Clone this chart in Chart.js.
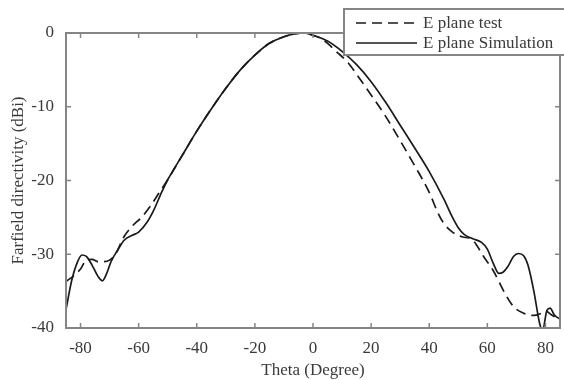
<!DOCTYPE html>
<html>
<head>
<meta charset="utf-8">
<script src="https://cdn.jsdelivr.net/npm/chart.js@4"></script>
<style>
  body { margin: 0; background: #fff; }
  canvas { display: block; }
</style>
</head>
<body>
<canvas id="myChart" width="564" height="380"></canvas>
<script>
const xTicks = [-80, -60, -40, -20, 0, 20, 40, 60, 80];
const yTicks = [0, -10, -20, -30, -40];

const simTheta = [-85, -83, -81, -79.5, -78, -76, -74, -72.5, -71, -69.5, -67, -65, -62, -60, -57, -55, -52,
    -50, -45, -40, -35, -30, -25, -20, -15, -10, -6, -3, 0, 5, 10, 15, 20, 25, 30, 35, 40, 45, 48, 50, 52,
    55, 58, 60, 62, 64, 65.5, 67, 69, 70.7, 72.5, 74, 76, 78, 79, 80.5, 81.6, 83, 85];
const simDb = [-37.5, -33.5, -31.0, -30.1, -30.3, -31.5, -33.0, -33.6, -32.6, -31.0, -29.3, -28.1, -27.4, -27.0, -25.6, -24.2, -21.5,
    -19.9, -16.6, -13.3, -10.3, -7.5, -5.0, -3.0, -1.4, -0.5, -0.1, 0, -0.3, -1.1, -2.5, -4.3, -6.6, -9.4, -12.5, -15.6, -18.8, -22.5, -25.0, -26.4, -27.3,
    -27.9, -28.4, -29.3, -31.2, -32.6, -32.4, -31.7, -30.3, -29.9, -30.2, -31.5, -35.0, -39.4, -40.3, -37.6, -37.3, -38.2, -38.8];

const testTheta = [-85, -82, -80, -78, -76, -74, -72, -70, -68, -65, -62, -59, -56, -53,
    -50, -45, -40, -35, -30, -25, -20, -15, -10, -6, -3, 0, 2.5, 5, 8, 12, 15, 20, 25, 30, 35, 40, 43, 45, 48, 51,
    55, 58.7, 62, 65.5, 69, 72.5, 76, 78, 80, 82, 85];
const testDb = [-33.7, -32.8, -32.0, -30.8, -30.7, -31.0, -31.0, -30.8, -30.0, -27.6, -26.1, -25.0, -23.5, -21.7,
    -19.9, -16.6, -13.3, -10.3, -7.5, -5.0, -3.0, -1.4, -0.5, -0.1, 0, -0.3, -0.7, -1.4, -2.5, -4.0, -5.6, -8.4, -11.3, -14.6, -18.0, -21.6, -24.4, -25.8, -27.0, -27.6,
    -28.1, -30.3, -32.2, -34.9, -37.1, -38.0, -38.3, -38.1, -37.7, -38.2, -38.9];

const seriesLabels = ['E plane test', 'E plane Simulation'];
const FONT = "'Liberation Serif', 'Times New Roman', serif";
const TEXT = '#3a3a3a';
const AXIS = '#858585';

function toPoints(xs, ys) {
    return xs.map((v, i) => ({ x: v, y: ys[i] }));
}

// box around the plot with inward ticks on all sides
const framePlugin = {
    id: 'frame',
    afterDatasetsDraw(chart) {
        const { ctx, chartArea: a, scales } = chart;
        ctx.save();
        ctx.strokeStyle = AXIS;
        ctx.lineWidth = 2;
        ctx.strokeRect(a.left, a.top, a.right - a.left, a.bottom - a.top);
        ctx.lineWidth = 1.5;
        ctx.beginPath();
        xTicks.forEach(v => {
            const px = scales.x.getPixelForValue(v);
            ctx.moveTo(px, a.bottom); ctx.lineTo(px, a.bottom - 5);
            ctx.moveTo(px, a.top); ctx.lineTo(px, a.top + 5);
        });
        yTicks.forEach(v => {
            const py = scales.y.getPixelForValue(v);
            ctx.moveTo(a.left, py); ctx.lineTo(a.left + 5, py);
            ctx.moveTo(a.right, py); ctx.lineTo(a.right - 5, py);
        });
        ctx.stroke();
        ctx.restore();
    }
};

// legend box in the top right corner
const legendPlugin = {
    id: 'boxLegend',
    afterDraw(chart) {
        const ctx = chart.ctx;
        const bx = 344, by = 9, bw = 224, bh = 46;
        ctx.save();
        ctx.fillStyle = '#fff';
        ctx.fillRect(bx, by, bw, bh);
        ctx.strokeStyle = AXIS;
        ctx.lineWidth = 2;
        ctx.strokeRect(bx, by, bw, bh);
        ctx.font = '17px ' + FONT;
        ctx.textBaseline = 'middle';
        chart.data.datasets.forEach((ds, i) => {
            const y = 23 + i * 20;
            ctx.strokeStyle = ds.borderColor;
            ctx.lineWidth = ds.borderWidth;
            ctx.setLineDash(ds.borderDash || []);
            ctx.beginPath();
            ctx.moveTo(356, y);
            ctx.lineTo(417, y);
            ctx.stroke();
            ctx.setLineDash([]);
            ctx.fillStyle = TEXT;
            ctx.fillText(ds.label, 423, y + 1);
        });
        ctx.restore();
    }
};

new Chart(document.getElementById('myChart'), {
    type: 'scatter',
    data: {
        datasets: [{
            label: seriesLabels[0],
            data: toPoints(testTheta, testDb),
            showLine: true,
            borderColor: '#1a1a1a',
            borderWidth: 1.7,
            borderDash: [10, 6],
            pointRadius: 0,
            cubicInterpolationMode: 'monotone'
        }, {
            label: seriesLabels[1],
            data: toPoints(simTheta, simDb),
            showLine: true,
            borderColor: '#1a1a1a',
            borderWidth: 1.7,
            pointRadius: 0,
            cubicInterpolationMode: 'monotone'
        }]
    },
    options: {
        responsive: false,
        animation: false,
        layout: { padding: { top: 33, right: 4, bottom: 0, left: 0 } },
        plugins: {
            legend: { display: false },
            tooltip: { enabled: false }
        },
        scales: {
            x: {
                type: 'linear',
                min: -85,
                max: 85,
                grid: { display: false },
                border: { display: false },
                afterBuildTicks: s => { s.ticks = xTicks.map(v => ({ value: v })); },
                afterFit: s => { s.height = 52; },
                ticks: {
                    padding: 2,
                    maxRotation: 0,
                    color: TEXT,
                    font: { family: FONT, size: 17 }
                },
                title: {
                    display: true,
                    text: 'Theta (Degree)',
                    color: TEXT,
                    font: { family: FONT, size: 17, lineHeight: 1.1 },
                    padding: { top: 0, bottom: 0 }
                }
            },
            y: {
                min: -40,
                max: 0,
                grid: { display: false },
                border: { display: false },
                afterBuildTicks: s => { s.ticks = yTicks.map(v => ({ value: v })); },
                afterFit: s => { s.width = 66; },
                ticks: {
                    padding: 4,
                    color: TEXT,
                    font: { family: FONT, size: 17 }
                },
                title: {
                    display: true,
                    text: 'Farfield directivity (dBi)',
                    color: TEXT,
                    font: { family: FONT, size: 17 },
                    padding: { top: 8, bottom: 0 }
                }
            }
        }
    },
    plugins: [framePlugin, legendPlugin]
});
</script>
</body>
</html>
